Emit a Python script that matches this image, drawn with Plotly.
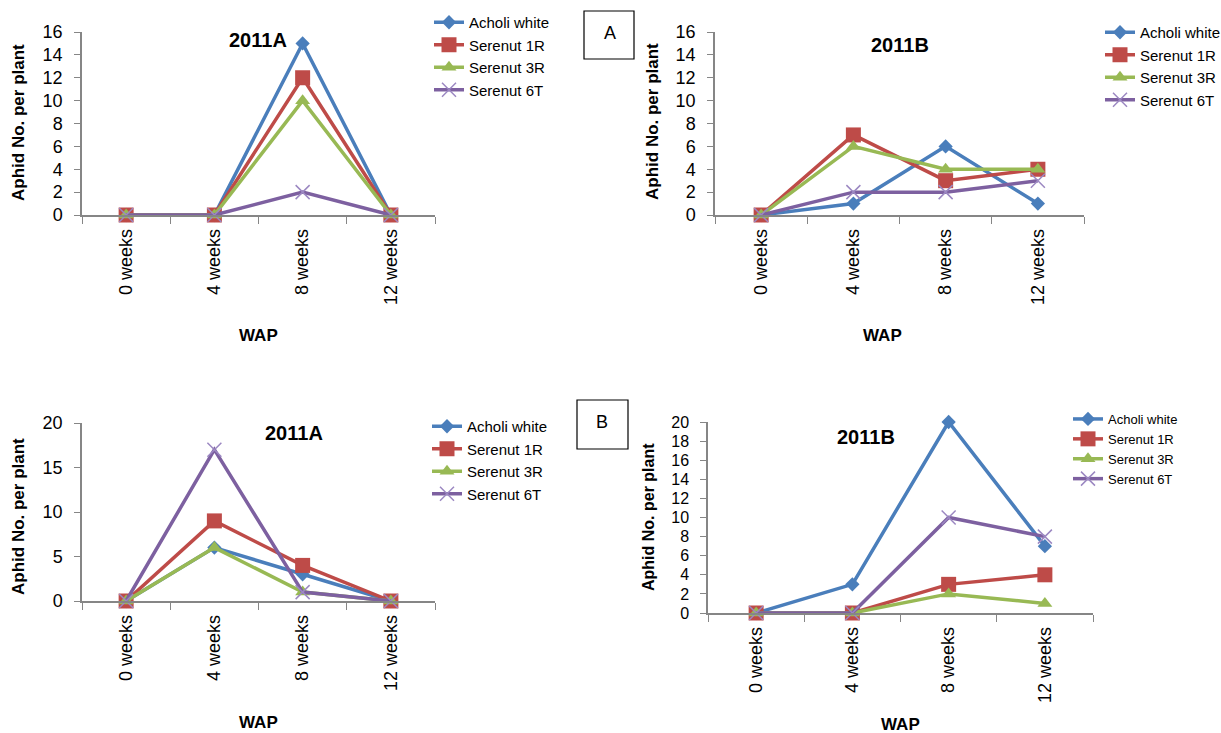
import plotly.graph_objects as go

W, H = 1221, 733
weeks = ["0 weeks", "4 weeks", "8 weeks", "12 weeks"]
series_names = ["Acholi white", "Serenut 1R", "Serenut 3R", "Serenut 6T"]

# Panel A, 2011A
a2011A_acholi = [0, 0, 15, 0]
a2011A_1R = [0, 0, 12, 0]
a2011A_3R = [0, 0, 10, 0]
a2011A_6T = [0, 0, 2, 0]
# Panel A, 2011B
a2011B_acholi = [0, 1, 6, 1]
a2011B_1R = [0, 7, 3, 4]
a2011B_3R = [0, 6, 4, 4]
a2011B_6T = [0, 2, 2, 3]
# Panel B, 2011A
b2011A_acholi = [0, 6, 3, 0]
b2011A_1R = [0, 9, 4, 0]
b2011A_3R = [0, 6, 1, 0]
b2011A_6T = [0, 17, 1, 0]
# Panel B, 2011B
b2011B_acholi = [0, 3, 20, 7]
b2011B_1R = [0, 0, 3, 4]
b2011B_3R = [0, 0, 2, 1]
b2011B_6T = [0, 0, 10, 8]

panels = [
    [a2011A_acholi, a2011A_1R, a2011A_3R, a2011A_6T],
    [a2011B_acholi, a2011B_1R, a2011B_3R, a2011B_6T],
    [b2011A_acholi, b2011A_1R, b2011A_3R, b2011A_6T],
    [b2011B_acholi, b2011B_1R, b2011B_3R, b2011B_6T],
]
titles = ["2011A", "2011B", "2011A", "2011B"]

colors = ["#4A7EBB", "#BE4B48", "#98B954", "#7D60A0"]
marker_colors = ["#4A7EBB", "#BE4B48", "#98B954", "#9C88C2"]
marker_symbols = ["diamond", "square", "triangle-up", "x-thin"]
marker_sizes = [11, 15, 13, 14]

# pixel boxes: (x0, x1, ytop, ybottom)
boxes = [
    (82, 435, 32, 215),
    (715, 1084, 32, 215),
    (82, 435, 423, 601),
    (708, 1093, 422, 613),
]
yranges = [(0, 16, 2), (0, 16, 2), (0, 20, 5), (0, 20, 2)]
ytick_sizes = [18, 18, 18, 16]
legend_pos = [(429, 6), (1100, 16), (427, 410), (1068, 404)]
legend_fs = [15, 15, 15, 13]
title_pos = [(258, 40), (900, 45), (294, 433), (866, 437)]
ytitle_pos = [(18, 123), (652, 122), (18, 517), (648, 517)]
ytitle_fs = [17, 17, 17, 16]
wap_pos = [(258, 335), (882, 335), (258, 722), (900, 724)]

fig = go.Figure()
font_main = "Liberation Sans, Arial"
axis_color = "#868686"

for p in range(4):
    ax = "" if p == 0 else str(p + 1)
    leg = "legend" if p == 0 else "legend" + str(p + 1)
    for s in range(4):
        mk = dict(symbol=marker_symbols[s], size=marker_sizes[s], color=marker_colors[s])
        if s == 3:
            mk["line"] = dict(width=1.5, color=marker_colors[s])
        fig.add_trace(go.Scatter(
            x=weeks, y=panels[p][s], name=series_names[s],
            mode="lines+markers",
            line=dict(color=colors[s], width=3.5),
            marker=mk,
            xaxis="x" + ax, yaxis="y" + ax,
            legend=leg, cliponaxis=False,
        ))
    x0, x1, yt, yb = boxes[p]
    y0, y1, dy = yranges[p]
    fig.layout["xaxis" + ax] = dict(
        domain=[x0 / W, x1 / W], anchor="y" + ax,
        type="category", range=[-0.5, 3.5],
        tickson="boundaries", ticks="outside", ticklen=7, tickcolor=axis_color,
        showline=True, linecolor=axis_color, linewidth=1.5,
        showgrid=False, tickangle=-90, ticklabelstandoff=5,
        tickfont=dict(family=font_main, size=18, color="#000"),
        fixedrange=True,
    )
    fig.layout["yaxis" + ax] = dict(
        domain=[1 - yb / H, 1 - yt / H], anchor="x" + ax,
        range=[y0, y1], dtick=dy, tick0=0,
        ticks="outside", ticklen=6, tickcolor=axis_color,
        showline=True, linecolor=axis_color, linewidth=1.5,
        showgrid=False, zeroline=False, ticklabelstandoff=8,
        tickfont=dict(family=font_main, size=ytick_sizes[p], color="#000"),
        fixedrange=True,
    )
    lx, ly = legend_pos[p]
    fig.layout[leg] = dict(
        x=lx / W, y=1 - ly / H, xanchor="left", yanchor="top",
        font=dict(family=font_main, size=legend_fs[p], color="#000"),
        bgcolor="rgba(0,0,0,0)", itemwidth=30, tracegroupgap=0,
    )
    tx, ty = title_pos[p]
    fig.add_annotation(x=tx / W, y=1 - ty / H, xref="paper", yref="paper",
                       xanchor="center", yanchor="middle",
                       text="<b>" + titles[p] + "</b>", showarrow=False,
                       font=dict(family=font_main, size=20, color="#000"))
    yx, yy = ytitle_pos[p]
    fig.add_annotation(x=yx / W, y=1 - yy / H, xref="paper", yref="paper",
                       xanchor="center", yanchor="middle",
                       text="<b>Aphid No. per plant</b>", textangle=-90, showarrow=False,
                       font=dict(family=font_main, size=ytitle_fs[p], color="#000"))
    wx, wy = wap_pos[p]
    fig.add_annotation(x=wx / W, y=1 - wy / H, xref="paper", yref="paper",
                       xanchor="center", yanchor="middle",
                       text="<b>WAP</b>", showarrow=False,
                       font=dict(family=font_main, size=17, color="#000"))

# Panel label boxes
for label, (bx0, by0, bx1, by1), (lxp, lyp) in [("A", (584, 11, 634, 59), (610, 33)),
                                                 ("B", (577, 400, 628, 449), (602, 422))]:
    fig.add_shape(type="rect", xref="paper", yref="paper",
                  x0=bx0 / W, x1=bx1 / W, y0=1 - by1 / H, y1=1 - by0 / H,
                  line=dict(color="#000", width=1.2), fillcolor="rgba(0,0,0,0)")
    fig.add_annotation(x=lxp / W, y=1 - lyp / H, xanchor="center", yanchor="middle",
                       xref="paper", yref="paper", text=label, showarrow=False,
                       font=dict(family=font_main, size=18, color="#000"))

fig.update_layout(
    width=W, height=H, margin=dict(l=0, r=0, t=0, b=0, autoexpand=False),
    paper_bgcolor="white", plot_bgcolor="white",
    showlegend=True,
)

fig.write_html("out.html", config={"displayModeBar": False},
               post_script="document.body.style.margin='0';")
